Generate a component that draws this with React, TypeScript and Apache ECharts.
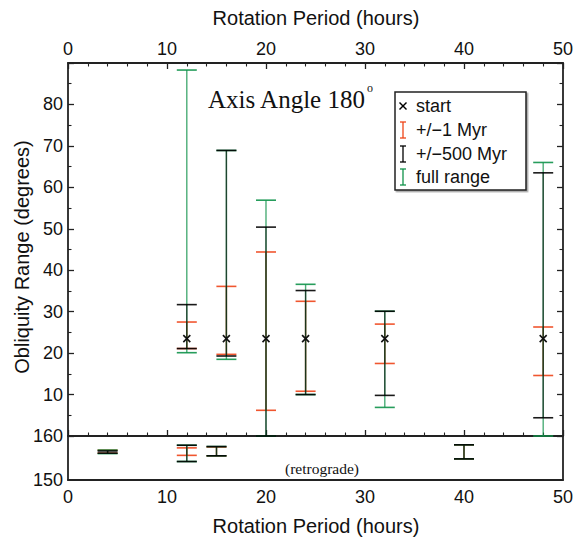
import React, { useEffect, useRef } from "react";
import * as echarts from "echarts";

// Start markers (prograde panel)
const startPeriods = [12, 16, 20, 24, 32, 48];
const startObliquity = [23.5, 23.5, 23.5, 23.5, 23.5, 23.5];

// Prograde panel ranges: [period, low, high]
const fullRangePro = [
  [12, 20.1, 88.3],
  [16, 18.5, 68.9],
  [20, 0, 56.9],
  [24, 10.0, 36.6],
  [32, 6.9, 30.1],
  [48, 0, 66.0],
];
const myr500Pro = [
  [12, 21.1, 31.7],
  [16, 19.3, 68.9],
  [20, 0, 50.4],
  [24, 10.0, 35.1],
  [32, 9.8, 30.1],
  [48, 4.4, 63.5],
];
const myr1Pro = [
  [12, 21.1, 27.5],
  [16, 19.7, 36.1],
  [20, 6.2, 44.4],
  [24, 10.8, 32.5],
  [32, 17.5, 27.0],
  [48, 14.6, 26.3],
];

// Retrograde panel ranges: [period, low, high]
const fullRangeRetro = [
  [4, 156.0, 156.8],
  [12, 154.2, 157.9],
  [15, 155.5, 157.6],
  [40, 154.8, 158.0],
];
const myr500Retro = [
  [4, 156.1, 156.6],
  [12, 154.2, 157.9],
  [15, 155.5, 157.6],
  [40, 154.8, 158.0],
];
const myr1Retro = [
  [4, 156.1, 156.8],
  [12, 155.6, 157.3],
  [15, 155.5, 157.5],
  [40, 154.8, 158.0],
];

const xTicks = [0, 10, 20, 30, 40, 50];
const legendLabels = ["start", "+/\u22121 Myr", "+/\u2212500 Myr", "full range"];

const RED = "#ee4418";
const GREEN = "#10924a";
const BLACK = "#000000";
const AXIS = "#222222";
const SANS = "Liberation Sans, Arial, sans-serif";
const SERIF = "Liberation Serif, Times New Roman, serif";

function errorSeries(name: string, data: number[][], color: string, opacity: number, xi: number, yi: number, z: number) {
  return {
    name,
    type: "custom",
    xAxisIndex: xi,
    yAxisIndex: yi,
    z,
    data,
    encode: { x: 0, y: [1, 2] },
    renderItem: (params: any, api: any) => {
      const x = api.value(0);
      const lo = api.value(1);
      const hi = api.value(2);
      const p1 = api.coord([x, lo]);
      const p2 = api.coord([x, hi]);
      const w = 10;
      const vstyle = { stroke: color, lineWidth: 1.4, opacity };
      const cstyle = { stroke: color, lineWidth: 1.6, opacity: 0.9 };
      return {
        type: "group",
        children: [
          { type: "line", shape: { x1: p1[0], y1: p1[1], x2: p2[0], y2: p2[1] }, style: vstyle },
          { type: "line", shape: { x1: p1[0] - w, y1: p1[1], x2: p1[0] + w, y2: p1[1] }, style: cstyle },
          { type: "line", shape: { x1: p2[0] - w, y1: p2[1], x2: p2[0] + w, y2: p2[1] }, style: cstyle },
        ],
      };
    },
  };
}

export default function App() {
  const ref = useRef<HTMLDivElement>(null);
  useEffect(() => {
    if (!ref.current) return;
    const chart = echarts.init(ref.current, undefined, { renderer: "svg" });
    const startData = startPeriods.map((p, i) => [p, startObliquity[i]]);

    const tickStyle = { show: true, inside: true, length: 6, lineStyle: { color: AXIS, width: 1.3 } };
    const minorStyle = { show: true, length: 3.5, lineStyle: { color: AXIS, width: 1.1 } };
    const lineStyle = { show: true, onZero: false, lineStyle: { color: AXIS, width: 1.8 } };
    const labelStyle = { fontFamily: SANS, fontSize: 18, color: "#111" };

    const legendY = [106, 130, 154, 177];
    const legendColors = [BLACK, RED, BLACK, GREEN];
    const legendGraphics: any[] = [
      {
        type: "rect",
        shape: { x: 395, y: 92, width: 131, height: 98 },
        style: { fill: "#fff", stroke: "#222", lineWidth: 1.5, shadowColor: "rgba(0,0,0,0.35)", shadowOffsetX: 1.5, shadowOffsetY: 1.5, shadowBlur: 1 },
        z: 10,
      },
    ];
    legendLabels.forEach((lab, i) => {
      const y = legendY[i];
      legendGraphics.push({
        type: "text",
        x: 416,
        y,
        z: 11,
        style: { text: lab, fontFamily: SANS, fontSize: 18, fill: "#111", verticalAlign: "middle", align: "left" },
      });
      const cx = 403;
      const c = legendColors[i];
      if (i === 0) {
        legendGraphics.push({ type: "line", z: 11, shape: { x1: cx - 3.5, y1: y - 3.5, x2: cx + 3.5, y2: y + 3.5 }, style: { stroke: c, lineWidth: 1.4 } });
        legendGraphics.push({ type: "line", z: 11, shape: { x1: cx - 3.5, y1: y + 3.5, x2: cx + 3.5, y2: y - 3.5 }, style: { stroke: c, lineWidth: 1.4 } });
      } else {
        const st = { stroke: c, lineWidth: 1.3 };
        legendGraphics.push({ type: "line", z: 11, shape: { x1: cx, y1: y - 8, x2: cx, y2: y + 8 }, style: st });
        legendGraphics.push({ type: "line", z: 11, shape: { x1: cx - 3, y1: y - 8, x2: cx + 3, y2: y - 8 }, style: st });
        legendGraphics.push({ type: "line", z: 11, shape: { x1: cx - 3, y1: y + 8, x2: cx + 3, y2: y + 8 }, style: st });
      }
    });

    chart.setOption({
      animation: false,
      backgroundColor: "#fff",
      grid: [
        { left: 68, top: 63, width: 496, height: 373 },
        { left: 68, top: 436, width: 496, height: 44 },
      ],
      xAxis: [
        {
          gridIndex: 0, type: "value", position: "top", min: 0, max: 50, interval: 10,
          axisLine: lineStyle, axisTick: tickStyle,
          minorTick: { ...minorStyle, splitNumber: 5 }, splitLine: { show: false },
          axisLabel: { ...labelStyle, margin: 5, formatter: (v: number) => (xTicks.includes(v) ? String(v) : "") },
        },
        {
          gridIndex: 0, type: "value", position: "bottom", min: 0, max: 50, interval: 10,
          axisLine: lineStyle, axisTick: tickStyle,
          minorTick: { ...minorStyle, splitNumber: 5 }, splitLine: { show: false },
          axisLabel: { show: false },
        },
        {
          gridIndex: 1, type: "value", position: "bottom", min: 0, max: 50, interval: 10,
          axisLine: lineStyle, axisTick: { show: false }, splitLine: { show: false },
          axisLabel: { ...labelStyle, margin: 8, formatter: (v: number) => (xTicks.includes(v) ? String(v) : "") },
        },
      ],
      yAxis: [
        {
          gridIndex: 0, type: "value", position: "left", min: 0, max: 90, interval: 10,
          axisLine: lineStyle, axisTick: tickStyle,
          minorTick: { ...minorStyle, splitNumber: 2 }, splitLine: { show: false },
          axisLabel: { ...labelStyle, margin: 5, formatter: (v: number) => (v === 0 || v === 90 ? "" : String(v)) },
        },
        {
          gridIndex: 0, type: "value", position: "right", min: 0, max: 90, interval: 10,
          axisLine: lineStyle, axisTick: tickStyle,
          minorTick: { ...minorStyle, splitNumber: 2 }, splitLine: { show: false },
          axisLabel: { show: false },
        },
        {
          gridIndex: 1, type: "value", position: "left", min: 150, max: 160, interval: 10,
          axisLine: lineStyle, axisTick: { show: false }, splitLine: { show: false },
          axisLabel: { ...labelStyle, margin: 5 },
        },
        {
          gridIndex: 1, type: "value", position: "right", min: 150, max: 160, interval: 10,
          axisLine: lineStyle, axisTick: { show: false }, splitLine: { show: false },
          axisLabel: { show: false },
        },
      ],
      series: [
        errorSeries("+/\u22121 Myr", myr1Pro, RED, 0.9, 0, 0, 2),
        errorSeries("full range", fullRangePro, GREEN, 0.75, 0, 0, 3),
        errorSeries("+/\u2212500 Myr", myr500Pro, BLACK, 0.6, 0, 0, 4),
        errorSeries("+/\u22121 Myr retro", myr1Retro, RED, 0.9, 2, 2, 2),
        errorSeries("full range retro", fullRangeRetro, GREEN, 0.75, 2, 2, 3),
        errorSeries("+/\u2212500 Myr retro", myr500Retro, BLACK, 0.6, 2, 2, 4),
        {
          name: "start",
          type: "custom",
          xAxisIndex: 0,
          yAxisIndex: 0,
          z: 6,
          data: startData,
          encode: { x: 0, y: 1 },
          renderItem: (params: any, api: any) => {
            const p = api.coord([api.value(0), api.value(1)]);
            const s = 3.5;
            const st = { stroke: "#111", lineWidth: 1.6 };
            return {
              type: "group",
              children: [
                { type: "line", shape: { x1: p[0] - s, y1: p[1] - s, x2: p[0] + s, y2: p[1] + s }, style: st },
                { type: "line", shape: { x1: p[0] - s, y1: p[1] + s, x2: p[0] + s, y2: p[1] - s }, style: st },
              ],
            };
          },
        },
      ],
      graphic: [
        {
          type: "text", x: 316, y: 18,
          style: { text: "Rotation Period (hours)", fontFamily: SANS, fontSize: 20, fill: "#111", align: "center", verticalAlign: "middle" },
        },
        {
          type: "text", x: 316, y: 526,
          style: { text: "Rotation Period (hours)", fontFamily: SANS, fontSize: 20, fill: "#111", align: "center", verticalAlign: "middle" },
        },
        {
          type: "text", x: 22, y: 257, rotation: Math.PI / 2,
          style: { text: "Obliquity Range (degrees)", fontFamily: SANS, fontSize: 20, fill: "#111", align: "center", verticalAlign: "middle" },
        },
        {
          type: "text", x: 208, y: 99,
          style: { text: "Axis Angle 180", fontFamily: SERIF, fontSize: 25, fill: "#111", align: "left", verticalAlign: "middle" },
        },
        {
          type: "text", x: 367, y: 88,
          style: { text: "o", fontFamily: SERIF, fontSize: 12, fill: "#111", align: "left", verticalAlign: "middle" },
        },
        {
          type: "text", x: 322, y: 468,
          style: { text: "(retrograde)", fontFamily: SERIF, fontSize: 15.5, fill: "#111", align: "center", verticalAlign: "middle" },
        },
        ...legendGraphics,
      ],
    });
    return () => chart.dispose();
  }, []);
  return <div ref={ref} style={{ position: "absolute", left: 0, top: 0, width: 576, height: 537 }} />;
}
